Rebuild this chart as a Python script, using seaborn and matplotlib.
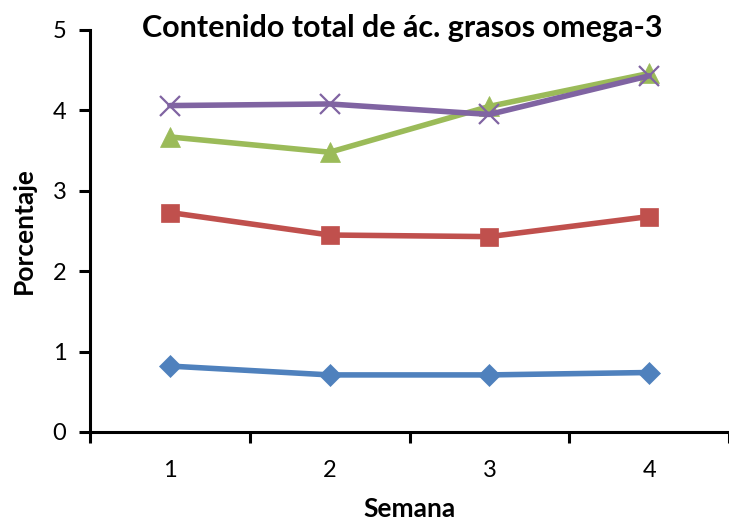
import matplotlib
matplotlib.use("Agg")
import matplotlib.pyplot as plt
import seaborn as sns
import pandas as pd
import numpy as np

semanas = [1, 2, 3, 4]
serie_1 = [0.82, 0.71, 0.71, 0.74]
serie_2 = [2.73, 2.45, 2.43, 2.68]
serie_3 = [3.67, 3.48, 4.05, 4.46]
serie_4 = [4.06, 4.08, 3.95, 4.43]
y_ticks = [0, 1, 2, 3, 4, 5]

nombres = ["Serie 1", "Serie 2", "Serie 3", "Serie 4"]
colores = ["#4F81BD", "#C0504D", "#9BBB59", "#8064A2"]
marcadores = ["D", "s", "^", "x"]
tam_marcador = [11, 13, 14, 14]

df = pd.DataFrame({
    "Semana": semanas * 4,
    "Porcentaje": serie_1 + serie_2 + serie_3 + serie_4,
    "Serie": [n for n in nombres for _ in semanas],
})

sns.set_theme(style="white")
plt.rcParams["font.family"] = ["Lato", "DejaVu Sans"]
plt.rcParams.update({"text.color": "black", "axes.labelcolor": "black",
                     "xtick.color": "black", "ytick.color": "black"})

fig = plt.figure(figsize=(7.29, 5.25), dpi=100)
ax = fig.add_axes([90 / 729, 93 / 525, 1 - 90 / 729, (432 - 30) / 525])

for nombre, color, m, ms in zip(nombres, colores, marcadores, tam_marcador):
    sub = df[df["Serie"] == nombre]
    sns.lineplot(data=sub, x="Semana", y="Porcentaje", ax=ax, color=color,
                 linewidth=4, marker=m, markersize=ms,
                 markeredgecolor=color, markeredgewidth=1.6 if m == "x" else 0.5,
                 legend=False, clip_on=False, zorder=3)

ax.set_xlim(0.5, 4.5)
ax.set_ylim(0, 5)
ax.set_yticks(y_ticks)
ax.set_xticks(semanas)
ax.set_xticks([0.5, 1.5, 2.5, 3.5, 4.5], minor=True)
ax.tick_params(axis="x", which="major", bottom=True, length=0, pad=20, labelsize=17)
ax.tick_params(axis="x", which="minor", bottom=True, length=8, width=2.2,
               color="black", direction="out")
ax.tick_params(axis="y", which="major", left=True, length=8, width=2.2, color="black",
               direction="out", labelsize=17, pad=9)

for s in ["top", "right"]:
    ax.spines[s].set_visible(False)
for s in ["left", "bottom"]:
    ax.spines[s].set_color("black")
    ax.spines[s].set_linewidth(2.2)

ax.set_xlabel("Semana", fontsize=19, fontweight="bold", labelpad=12)
ax.set_ylabel("Porcentaje", fontsize=19, fontweight="bold", labelpad=12)
fig.text(402 / 729, 1 - 28 / 525, "Contenido total de ác. grasos omega-3",
         ha="center", va="center", fontsize=22, fontweight="bold")

fig.savefig("out.png", dpi=100)
